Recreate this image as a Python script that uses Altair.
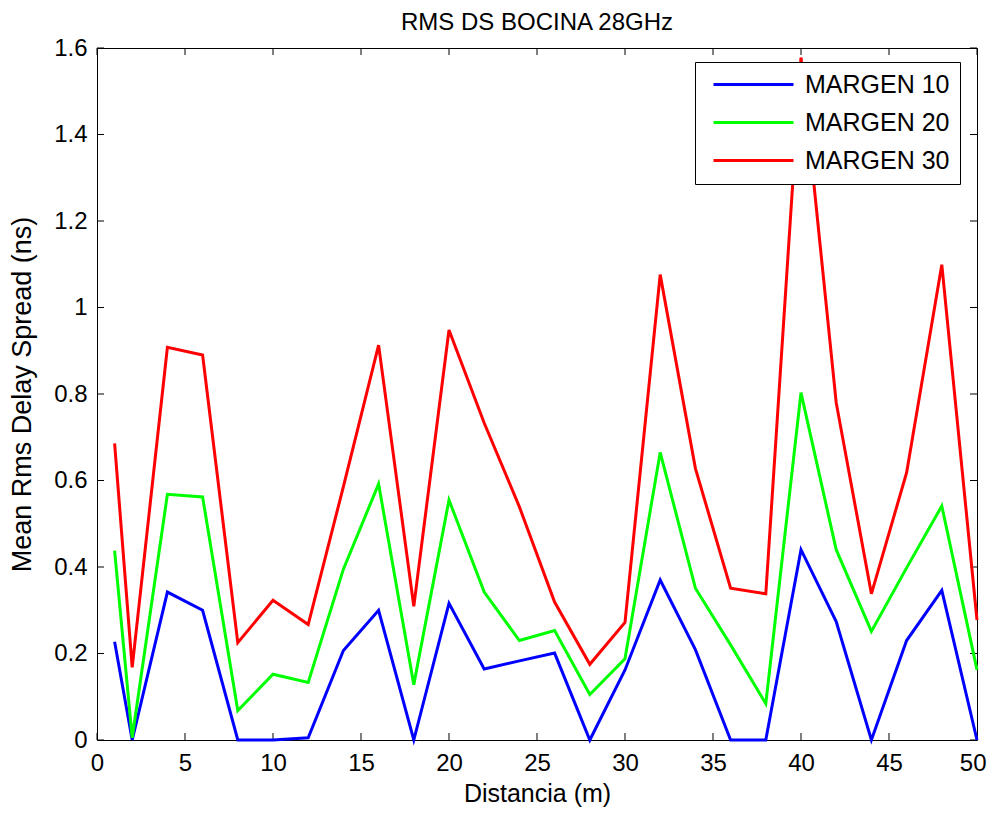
import altair as alt
import pandas as pd

# ---- data ----
distancia = [1, 2, 4, 6, 8, 10, 12, 14, 16, 18, 20, 22, 24, 26, 28, 30, 32, 34, 36, 38, 40, 42, 44, 46, 48, 50]
margen10 = [0.227, 0.0, 0.342, 0.300, 0.0, 0.0, 0.005, 0.207, 0.300, 0.0, 0.316, 0.164, 0.183, 0.201, 0.0,
            0.162, 0.370, 0.209, 0.0, 0.0, 0.440, 0.274, 0.0, 0.230, 0.346, 0.0]
margen20 = [0.438, 0.005, 0.568, 0.562, 0.068, 0.152, 0.133, 0.395, 0.592, 0.128, 0.555, 0.342, 0.230, 0.253,
            0.105, 0.188, 0.665, 0.351, 0.220, 0.084, 0.803, 0.440, 0.251, 0.398, 0.541, 0.162]
margen30 = [0.686, 0.168, 0.908, 0.890, 0.225, 0.323, 0.267, 0.586, 0.913, 0.309, 0.948, 0.733, 0.539, 0.319,
            0.175, 0.272, 1.076, 0.628, 0.351, 0.338, 1.578, 0.780, 0.338, 0.618, 1.099, 0.277]
series_names = ["MARGEN 10", "MARGEN 20", "MARGEN 30"]
series_colors = ["#0000ff", "#00ff00", "#ff0000"]
x_ticks = [0, 5, 10, 15, 20, 25, 30, 35, 40, 45, 50]
y_ticks = [0, 0.2, 0.4, 0.6, 0.8, 1.0, 1.2, 1.4, 1.6]

rows = []
for name, vals in zip(series_names, [margen10, margen20, margen30]):
    for xv, yv in zip(distancia, vals):
        rows.append({"x": xv, "y": yv, "serie": name})
df = pd.DataFrame(rows)
xt = pd.DataFrame({"t": x_ticks})
yt = pd.DataFrame({"t": y_ticks})

W, H = 880, 692
FONT = "Liberation Sans"

xscale = alt.Scale(domain=[0, 50], nice=False, zero=False)
yscale = alt.Scale(domain=[0, 1.6], nice=False, zero=False)

lines = alt.Chart(df).mark_line(strokeWidth=3, clip=False).encode(
    x=alt.X("x:Q", scale=xscale,
            axis=alt.Axis(values=x_ticks, title="Distancia (m)", grid=False, ticks=False, domain=False,
                          labelFlush=False, labelPadding=11, titlePadding=6, titleFontSize=25,
                          labelAlign={"condition": {"test": "datum.value == 50", "value": "right"},
                                      "value": "center"},
                          labelOffset={"condition": {"test": "datum.value == 50", "value": 9},
                                       "value": 0},
                          format="~g")),
    y=alt.Y("y:Q", scale=yscale,
            axis=alt.Axis(values=y_ticks, title="Mean Rms Delay Spread (ns)", grid=False, ticks=False,
                          domain=False, labelFlush=False, labelPadding=10, titlePadding=17,
                          titleFontSize=27, format="~g")),
    color=alt.Color("serie:N", title=None,
                    scale=alt.Scale(domain=series_names, range=series_colors),
                    legend=alt.Legend(orient="none", legendX=598, legendY=14, symbolType="M-0.4,0L7.6,0",
                                      symbolSize=400, symbolStrokeWidth=3, labelFontSize=25,
                                      labelFont=FONT, labelColor="#000000", rowPadding=12,
                                      labelOffset=75, padding=10, strokeColor="#000000",
                                      fillColor="#ffffff")),
)

tick_len = 7
xb = alt.Chart(xt).mark_rule(color="black", strokeWidth=1).encode(
    x=alt.X("t:Q", scale=xscale), y=alt.value(H), y2=alt.value(H - tick_len))
xtp = alt.Chart(xt).mark_rule(color="black", strokeWidth=1).encode(
    x=alt.X("t:Q", scale=xscale), y=alt.value(0), y2=alt.value(tick_len))
yl = alt.Chart(yt).mark_rule(color="black", strokeWidth=1).encode(
    y=alt.Y("t:Q", scale=yscale), x=alt.value(0), x2=alt.value(tick_len))
yr = alt.Chart(yt).mark_rule(color="black", strokeWidth=1).encode(
    y=alt.Y("t:Q", scale=yscale), x=alt.value(W), x2=alt.value(W - tick_len))

chart = alt.layer(xb, xtp, yl, yr, lines).properties(
    width=W, height=H,
    title=alt.TitleParams("RMS DS BOCINA 28GHz", fontSize=24, font=FONT, fontWeight="normal",
                          color="#000000", offset=1),
    autosize=alt.AutoSizeParams(type="none"),
    padding={"left": 89, "top": 40, "right": 10, "bottom": 68},
).configure(background="#ffffff").configure_view(stroke="#000000", strokeWidth=1).configure_axis(
    labelFont=FONT, labelFontSize=24, labelColor="#000000",
    titleFont=FONT, titleFontWeight="normal", titleColor="#000000",
)

chart.save("out.html", embed_options={"renderer": "svg", "actions": False})
